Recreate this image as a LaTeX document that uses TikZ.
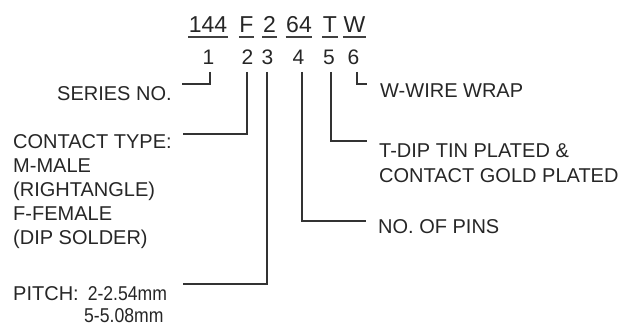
\documentclass[tikz,border=0pt]{standalone}
\usepackage{fontspec}
\setmainfont{Liberation Sans}
\begin{document}
\begin{tikzpicture}[x=1pt,y=-1pt,
  lab/.style={anchor=base west,inner sep=0pt,font=\fontsize{20}{24}\selectfont,text=black!85},
  code/.style={anchor=base,inner sep=0pt,font=\fontsize{23}{26}\selectfont,text=black!85},
  dig/.style={anchor=base,inner sep=0pt,font=\fontsize{21}{24}\selectfont,text=black!85},
  wire/.style={line width=1.1pt,draw=black!80},
  uline/.style={line width=1.1pt,draw=black!75}]
\useasboundingbox (0,0) rectangle (628,326);
% code row
\node[code] (c144) at (208,33) {144};
\node[code] (cF) at (246.5,33) {F};
\node[code] (c2) at (269.5,33) {2};
\node[code] (c64) at (299,33) {64};
\node[code] (cT) at (330,33) {T};
\node[code] (cW) at (354.5,33) {W};
\foreach \n in {c144,cF,c2,c64,cT,cW}
  \draw[uline] ([xshift=-0.5pt,yshift=-4pt]\n.base west) -- ([xshift=0.5pt,yshift=-4pt]\n.base east);
% digit row
\node[dig] (d1) at (208.5,65) {1};
\node[dig] (d2) at (247.5,65) {2};
\node[dig] (d3) at (267.5,65) {3};
\node[dig] (d4) at (298.5,65) {4};
\node[dig] (d5) at (329,65) {5};
\node[dig] (d6) at (353.5,65) {6};
% labels
\node[lab] (series) at (57,100) {SERIES NO.};
\node[lab] (ct1) at (13,148) {CONTACT TYPE:};
\node[lab] (ct2) at (13,172) {M-MALE};
\node[lab] (ct3) at (13,196) {(RIGHTANGLE)};
\node[lab] (ct4) at (13,220) {F-FEMALE};
\node[lab] (ct5) at (13,244) {(DIP SOLDER)};
\node[lab] (p1) at (13,300) {PITCH:\hspace{9pt}\scalebox{0.88}[1]{2-2.54mm}};
\node[lab] (p2) at (84,322) {\scalebox{0.88}[1]{5-5.08mm}};
\node[lab] (ww) at (380,98) {W-WIRE WRAP};
\node[lab] (td1) at (379,157) {T-DIP TIN PLATED \&};
\node[lab] (td2) at (379,182) {CONTACT GOLD PLATED};
\node[lab] (np) at (378,233) {NO. OF PINS};
% connector free ends
\coordinate (e1) at (182,84);
\coordinate (e2) at (183,134);
\coordinate (e3) at (183,284);
\coordinate (e4) at (366,221);
\coordinate (e5) at (367,141);
\coordinate (e6) at (367,84);
\draw[wire] (d1.base -| 210,0) ++(0,-7pt) |- (e1);
\draw[wire] (d2.base -| 247,0) ++(0,-7pt) |- (e2);
\draw[wire] (d3.base -| 267,0) ++(0,-7pt) |- (e3);
\draw[wire] (d4.base -| 302,0) ++(0,-7pt) |- (e4);
\draw[wire] (d5.base -| 331,0) ++(0,-7pt) |- (e5);
\draw[wire] (d6.base -| 357,0) ++(0,-7pt) |- (e6);
\end{tikzpicture}
\end{document}
